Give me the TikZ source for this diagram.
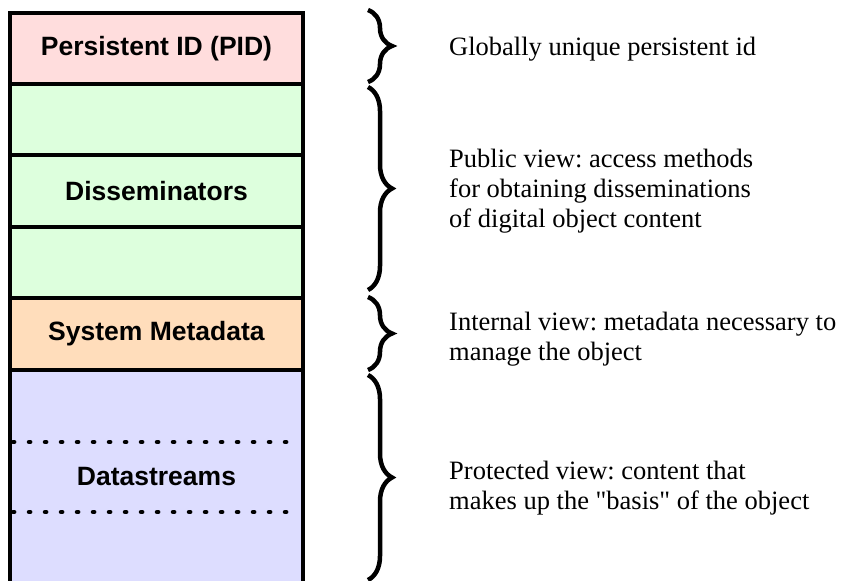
\documentclass[tikz,border=0pt]{standalone}
\usepackage{fontspec}
\setmainfont{Liberation Serif}
\setsansfont{Liberation Sans}
\usetikzlibrary{decorations.pathreplacing}
\definecolor{pidpink}{RGB}{255,221,221}
\definecolor{dissgreen}{RGB}{221,255,221}
\definecolor{metapeach}{RGB}{255,221,187}
\definecolor{datablue}{RGB}{221,221,255}
\frenchspacing
\newcommand\straightquote{\XeTeXglyph\XeTeXcharglyph"22\relax}
\tikzset{
  layerlabel/.style={font=\sffamily\bfseries\fontsize{26.5}{30}\selectfont, inner sep=0pt},
  viewtext/.style={font=\fontsize{26.5}{30}\selectfont, align=left, anchor=base west, inner sep=0pt},
  viewbrace/.style={decorate, decoration={brace, amplitude=24pt}, line width=4.5pt},
}
\begin{document}
\begin{tikzpicture}[x=1pt, y=-1pt]
        \useasboundingbox (0,0) rectangle (841,581);

        % Layer fills
        \fill[pidpink] (10,13) rectangle (303,84);
        \fill[dissgreen] (10,84) rectangle (303,298);
        \fill[metapeach] (10,298) rectangle (303,370);
        \fill[datablue] (10,370) rectangle (303,585);

        % Outline and separators
        \draw[line width=4pt] (10,590) -- (10,13) -- (303,13) -- (303,590);
        \foreach \y in {84,155,227,298,370} {
            \draw[line width=4pt] (10,\y) -- (303,\y);
        }
        \foreach \y in {442,512} {
            \draw[line width=4.5pt, line cap=round, dash pattern=on 1.2pt off 14.8pt] (13,\y) -- (290,\y);
        }

        % Layer names
        \node[layerlabel] (pid) at (156.5,48.5) {Persistent ID (PID)};
        \node[layerlabel] (diss) at (156.5,191) {Disseminators};
        \node[layerlabel] (sysmeta) at (156.5,334) {System Metadata};
        \node[layerlabel] (datastr) at (156.5,477) {Datastreams};

        % Braces
        \draw[viewbrace] (368,10) -- (368,82);
        \draw[viewbrace] (368,87) -- (368,290);
        \draw[viewbrace] (368,297) -- (368,370);
        \draw[viewbrace] (368,375) -- (368,580);

        % Views (base = last line)
        \node[viewtext] (pidview) at (449,55) {Globally unique persistent id};
        \node[viewtext] (pubview) at (449,227) {Public view: access methods\\for obtaining disseminations\\of digital object content};
        \node[viewtext] (intview) at (449,360) {Internal view: metadata necessary to\\manage the object};
        \node[viewtext] (protview) at (449,509) {Protected view: content that\\makes up the \straightquote basis\straightquote{} of the object};
\end{tikzpicture}
\end{document}
